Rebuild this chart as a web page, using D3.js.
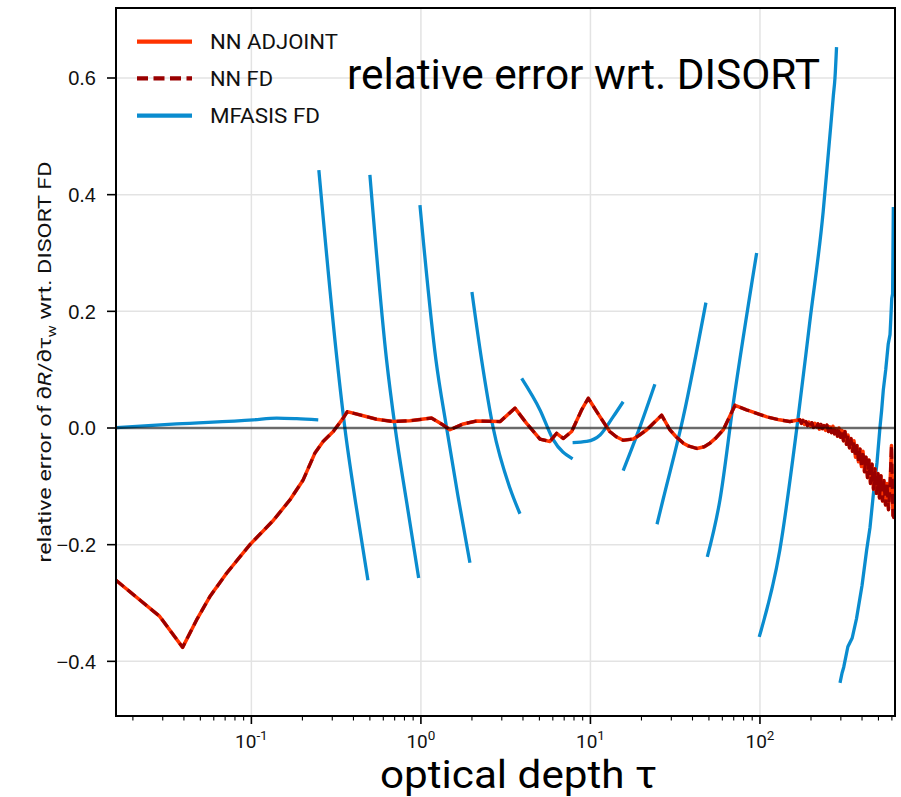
<!DOCTYPE html>
<html>
<head>
<meta charset="utf-8">
<script src="https://cdn.jsdelivr.net/npm/d3@7"></script>
<style>
  html, body { margin: 0; padding: 0; background: #fff; }
  svg { display: block; }
</style>
</head>
<body>
<svg id="chart" width="901" height="797"></svg>
<script>
// ---------------- DATA ----------------
const xDomain = [0.0159, 626];
const yDomain = [-0.4937, 0.72];
const yTicks = [-0.4, -0.2, 0.0, 0.2, 0.4, 0.6];
const xTickExponents = [-1, 0, 1, 2];

const seriesNames = ["NN ADJOINT", "NN FD", "MFASIS FD"];

// NN (adjoint and FD coincide)
const nnTau = [0.0159,0.0288,0.0393,0.0475,0.0569,0.0714,0.098,0.135,0.169,0.202,0.237,0.265,0.304,0.348,0.368,
  0.457,0.548,0.687,0.861,1.156,1.355,1.483,1.778,2.13,2.93,3.59,4.2,5.04,5.77,6.32,6.92,7.75,8.87,9.71,
  11.4,13.0,14.2,15.6,17.9,19.5,21.5,26.3,29.4,32,35.3,38,42.4,47,50.7,55,60.8,71.3,83.5,110,130,150,
  172.2,175.7,179.4,183.1,186.8,190.7,194.6,198.6,202.7,206.9,211.1,215.5,219.9,224.4,229.0,233.8,
  238.6,243.5,248.5,253.6,258.8,264.2,269.6,275.2,280.8,286.6,292.5,298.5,304.6,310.9,317.3,323.8,
  330.5,337.3,344.3,351.4,358.6,366.0,373.5,381.2,389.0,397.0,405.2,413.6,422.1,430.8,439.6,448.7,
  457.9,467.3,477.0,486.8,496.8,507.0,517.5,528.1,539.0,550.1,561.5,573.0,584.8,596.9,609.2,621.7];
const nnErr = [-0.261,-0.323,-0.376,-0.329,-0.289,-0.249,-0.200,-0.158,-0.123,-0.089,-0.043,-0.023,-0.006,0.017,0.028,
  0.021,0.015,0.011,0.0125,0.017,0.005,-0.003,0.007,0.012,0.011,0.034,0.008,-0.019,-0.023,-0.009,-0.018,-0.006,0.031,0.051,
  0.019,-0.006,-0.015,-0.021,-0.019,-0.012,-0.003,0.022,-0.003,-0.015,-0.026,-0.031,-0.035,-0.032,-0.026,-0.017,-0.003,0.039,0.031,0.019,0.014,0.011,
  0.014,0.008,0.013,0.006,0.011,0.004,0.010,0.003,0.009,0.001,0.008,0.002,0.007,-0.002,0.006,-0.001,
  0.004,-0.004,0.005,-0.006,0.002,-0.008,0.003,-0.010,-0.001,-0.014,0.000,-0.016,-0.004,-0.022,-0.006,-0.028,
  -0.012,-0.034,-0.018,-0.040,-0.022,-0.050,-0.030,-0.058,-0.036,-0.066,-0.040,-0.075,-0.050,-0.085,-0.055,-0.095,
  -0.062,-0.105,-0.070,-0.112,-0.078,-0.120,-0.082,-0.125,-0.090,-0.132,-0.095,-0.140,-0.100,-0.030,-0.150,-0.155];

// MFASIS FD: one segment per interpolation interval
const mfasisTau = [
  [0.0159,0.0362,0.1025,0.141,0.185,0.248],
  [0.25,0.32,0.356,0.414,0.487],
  [0.5,0.627,0.705,0.827,0.97],
  [0.987,1.226,1.418,1.65,1.946],
  [2.0,2.28,2.67,3.35,3.84],
  [3.93,5.04,6.03,7.85],
  [7.85,9.5,11.4,13.6,15.6],
  [15.6,19.6,24.0],
  [24.7,26.8,35.3,48],
  [48.9,58.1,69.6,95.6],
  [99,131,165,197,236,253,262,271,277,283],
  [296.6,305,312,330,350,371,400,426,446,466,490,510,522,534,552,571,585,592,599,606,612]
];
const mfasisErr = [
  [0.0005,0.007,0.014,0.017,0.016,0.014],
  [0.442,0.117,0.0,-0.132,-0.261],
  [0.434,0.117,0.0,-0.130,-0.257],
  [0.382,0.117,0.0,-0.115,-0.231],
  [0.233,0.117,0.0,-0.103,-0.147],
  [0.085,0.031,-0.020,-0.053],
  [-0.025,-0.023,-0.012,0.019,0.045],
  [-0.073,0.002,0.075],
  [-0.165,-0.123,0.019,0.215],
  [-0.221,-0.123,0.042,0.300],
  [-0.358,-0.209,0.0,0.183,0.371,0.470,0.520,0.570,0.600,0.653],
  [-0.437,-0.42,-0.41,-0.375,-0.36,-0.327,-0.27,-0.209,-0.17,-0.115,-0.06,0.0,0.03,0.065,0.10,0.144,0.16,0.19,0.222,0.23,0.379]
];

// ---------------- LAYOUT ----------------
const plot = { left: 116, right: 895, top: 8, bottom: 716 };
const colors = { adjoint: "#ff3300", fd: "#990000", mfasis: "#0a8ccf" };

const svg = d3.select("#chart");
const x = d3.scaleLog().domain(xDomain).range([plot.left, plot.right]);
const y = d3.scaleLinear().domain(yDomain).range([plot.bottom, plot.top]);

svg.append("defs").append("clipPath").attr("id", "clip")
  .append("rect").attr("x", plot.left).attr("y", plot.top)
  .attr("width", plot.right - plot.left).attr("height", plot.bottom - plot.top);

// grid
const grid = svg.append("g");
grid.selectAll("line.gx").data(xTickExponents).join("line")
  .attr("x1", d => x(Math.pow(10, d))).attr("x2", d => x(Math.pow(10, d)))
  .attr("y1", plot.top).attr("y2", plot.bottom)
  .attr("stroke", "#e3e3e3").attr("stroke-width", 1.5);
grid.selectAll("line.gy").data(yTicks).join("line")
  .attr("x1", plot.left).attr("x2", plot.right)
  .attr("y1", d => y(d)).attr("y2", d => y(d))
  .attr("stroke", "#e3e3e3").attr("stroke-width", 1.5);

// data
const dataG = svg.append("g").attr("clip-path", "url(#clip)");
const lineLin = d3.line().x(d => x(d[0])).y(d => y(d[1]));
const lineSmooth = d3.line().x(d => x(d[0])).y(d => y(d[1])).curve(d3.curveMonotoneX);

mfasisTau.forEach((taus, i) => {
  const pts = taus.map((t, j) => [t, mfasisErr[i][j]]);
  dataG.append("path").attr("d", (i >= 11 ? lineLin : lineSmooth)(pts))
    .attr("fill", "none").attr("stroke", colors.mfasis).attr("stroke-width", 3.3)
    .attr("stroke-linejoin", "round");
});

const nnPts = nnTau.map((t, i) => [t, nnErr[i]]);
dataG.append("path").attr("d", lineLin(nnPts))
  .attr("fill", "none").attr("stroke", colors.adjoint).attr("stroke-width", 3.5)
  .attr("stroke-linejoin", "round");
dataG.append("path").attr("d", lineLin(nnPts))
  .attr("fill", "none").attr("stroke", colors.fd).attr("stroke-width", 3.2)
  .attr("stroke-dasharray", "10,5").attr("stroke-linejoin", "round");

// zero line
svg.append("line").attr("x1", plot.left).attr("x2", plot.right)
  .attr("y1", y(0)).attr("y2", y(0))
  .attr("stroke", "rgba(0,0,0,0.55)").attr("stroke-width", 2.5);

// x axis ticks (major + minor from the log scale)
const isMajor = d => Math.abs(Math.log10(d) - Math.round(Math.log10(d))) < 1e-9;
const gx = svg.append("g").attr("transform", `translate(0,${plot.bottom})`);
gx.selectAll("line").data(x.ticks()).join("line")
  .attr("x1", d => x(d)).attr("x2", d => x(d))
  .attr("y1", 0).attr("y2", d => isMajor(d) ? 8 : 4.5)
  .attr("stroke", "#000").attr("stroke-width", d => isMajor(d) ? 1.6 : 1.1);

const xl = svg.append("g");
xTickExponents.forEach(e => {
  const t = xl.append("text").attr("x", x(Math.pow(10, e))).attr("y", 748)
    .attr("text-anchor", "middle").attr("font-family", "Roboto").attr("font-size", 19)
    .attr("fill", "#111");
  t.append("tspan").text("10");
  t.append("tspan").attr("dy", -8).attr("font-size", 13.5).text(e < 0 ? "-" + (-e) : String(e));
});

// y axis
const gy = svg.append("g");
gy.selectAll("line").data(yTicks).join("line")
  .attr("x1", plot.left - 9).attr("x2", plot.left)
  .attr("y1", d => y(d)).attr("y2", d => y(d))
  .attr("stroke", "#000").attr("stroke-width", 1.6);
const fmt = d3.format(".1f");
gy.selectAll("text").data(yTicks).join("text")
  .attr("x", 96).attr("y", d => y(d)).attr("dy", "0.36em")
  .attr("text-anchor", "end").attr("font-family", "Liberation Sans, Arial, sans-serif")
  .attr("font-size", 20).attr("fill", "#111")
  .text(d => fmt(d));

// frame
svg.append("rect").attr("x", plot.left).attr("y", plot.top)
  .attr("width", plot.right - plot.left).attr("height", plot.bottom - plot.top)
  .attr("fill", "none").attr("stroke", "#000").attr("stroke-width", 2);

// legend
const legendY = [41.7, 78.3, 115.7];
const legendW = [128, 63, 110];
const legendStyle = [
  { c: colors.adjoint, dash: null },
  { c: colors.fd, dash: "11,5.5" },
  { c: colors.mfasis, dash: null }
];
seriesNames.forEach((name, i) => {
  const ly = legendY[i];
  const ln = svg.append("line").attr("x1", 137).attr("x2", 192).attr("y1", ly).attr("y2", ly)
    .attr("stroke", legendStyle[i].c).attr("stroke-width", 4.2);
  if (legendStyle[i].dash) ln.attr("stroke-dasharray", legendStyle[i].dash);
  svg.append("text").attr("x", 210).attr("y", ly + 7.5)
    .attr("font-family", "Roboto").attr("font-size", 21).attr("fill", "#111")
    .attr("textLength", legendW[i]).attr("lengthAdjust", "spacingAndGlyphs")
    .text(name);
});

// title inside plot
svg.append("text").attr("x", 347).attr("y", 89)
  .attr("font-family", "Roboto").attr("font-size", 42).attr("fill", "#000")
  .attr("textLength", 473).attr("lengthAdjust", "spacingAndGlyphs")
  .text("relative error wrt. DISORT");

// x label
svg.append("text").attr("x", 380).attr("y", 788)
  .attr("font-family", "Roboto").attr("font-size", 38).attr("fill", "#000")
  .attr("textLength", 277).attr("lengthAdjust", "spacingAndGlyphs")
  .text("optical depth τ");

// y label
const yl = svg.append("text")
  .attr("transform", "translate(51,362) rotate(-90)")
  .attr("text-anchor", "middle")
  .attr("font-family", "Roboto").attr("font-size", 19).attr("fill", "#111")
  .attr("textLength", 401).attr("lengthAdjust", "spacingAndGlyphs");
yl.append("tspan").text("relative error of ∂");
yl.append("tspan").attr("font-style", "italic").text("R");
yl.append("tspan").text("/∂τ");
yl.append("tspan").attr("dy", 5).attr("font-size", 13).text("w");
yl.append("tspan").attr("dy", -5).text(" wrt. DISORT FD");
</script>
</body>
</html>
